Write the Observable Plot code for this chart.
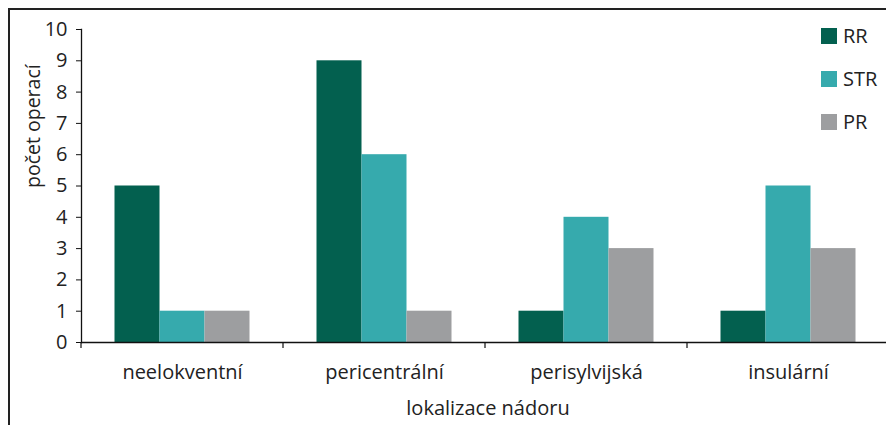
<!DOCTYPE html>
<html>
<head>
<meta charset="utf-8">
<script src="https://cdn.jsdelivr.net/npm/d3@7"></script>
<script src="https://cdn.jsdelivr.net/npm/@observablehq/plot@0.6"></script>
<style>
  html, body { margin: 0; padding: 0; background: #fff; }
  #wrap { position: relative; width: 886px; height: 425px; overflow: hidden; font-family: "Open Sans", "Noto Sans", sans-serif; }
  #border { position: absolute; left: 8px; top: 8px; width: 890px; height: 430px; border-top: 2px solid #222; border-left: 2px solid #222; box-sizing: border-box; }
  #chart { position: absolute; left: 0; top: 0; }
  #legend { position: absolute; left: 821px; top: 28px; }
  .item { position: relative; height: 43px; }
  .sw { position: absolute; left: 0; top: 0; width: 16px; height: 16px; }
  .lab { position: absolute; left: 22px; top: -5px; font-size: 20px; color: #222; line-height: 26px; }
</style>
</head>
<body>
<div id="wrap">
  <div id="border"></div>
  <div id="chart"></div>
  <div id="legend"></div>
</div>
<script>
const categories = ["neelokventní", "pericentrální", "perisylvijská", "insulární"];
const series = ["RR", "STR", "PR"];
const RR = [5, 9, 1, 1];
const STR = [1, 6, 4, 5];
const PR = [1, 1, 3, 3];
const yTicks = [0, 1, 2, 3, 4, 5, 6, 7, 8, 9, 10];
const colors = ["#03604f", "#36aaad", "#9d9ea0"];
const yLabel = "počet operací";
const xLabel = "lokalizace nádoru";

const valuesBySeries = {RR, STR, PR};
const data = series.flatMap(s => categories.map((c, i) => ({category: c, series: s, value: valuesBySeries[s][i]})));

const band = (889 - 81) / categories.length;
const barW = 45;
const pad = (band - 3 * barW) / 2;

const barMarks = series.map((s, k) => Plot.barY(data.filter(d => d.series === s), {
  x: "category",
  y: "value",
  fill: colors[k],
  insetLeft: pad + k * barW,
  insetRight: band - pad - (k + 1) * barW
}));

const chart = Plot.plot({
  width: 886,
  height: 425,
  marginLeft: 81,
  marginRight: 0,
  marginTop: 29,
  marginBottom: 83,
  style: {fontFamily: "'Open Sans', 'Noto Sans', sans-serif", fontSize: "20px", color: "#222", background: "transparent", overflow: "visible"},
  x: {domain: categories, range: [81, 889], padding: 0},
  y: {domain: [0, 10]},
  marks: [
    ...barMarks,
    Plot.barY(categories, {x: d => d, y1: 0, y2: -6 / 31.3, fill: "#111", insetLeft: -0.6, insetRight: band - 0.6}),
    Plot.ruleY([0], {stroke: "#111", strokeWidth: 1.5}),
    Plot.frame({anchor: "left", stroke: "#111", strokeWidth: 1.3}),
    Plot.axisY({ticks: yTicks, tickSize: 5, tickPadding: 9, label: null, fontSize: 20, stroke: "#111"}),
    Plot.axisX({tickSize: 0, tickPadding: 22, label: null, fontSize: 20}),
    Plot.text([yLabel], {frameAnchor: "left", dx: -48, dy: 2, rotate: -90, fontSize: 19.5, fill: "#222"}),
    Plot.text([xLabel], {frameAnchor: "bottom", dx: 4, dy: 72, fontSize: 20, fill: "#222"})
  ]
});
document.getElementById("chart").appendChild(chart);

const legend = document.getElementById("legend");
series.forEach((s, k) => {
  const item = document.createElement("div");
  item.className = "item";
  item.innerHTML = `<div class="sw" style="background:${colors[k]}"></div><div class="lab">${s}</div>`;
  legend.appendChild(item);
});
</script>
</body>
</html>
